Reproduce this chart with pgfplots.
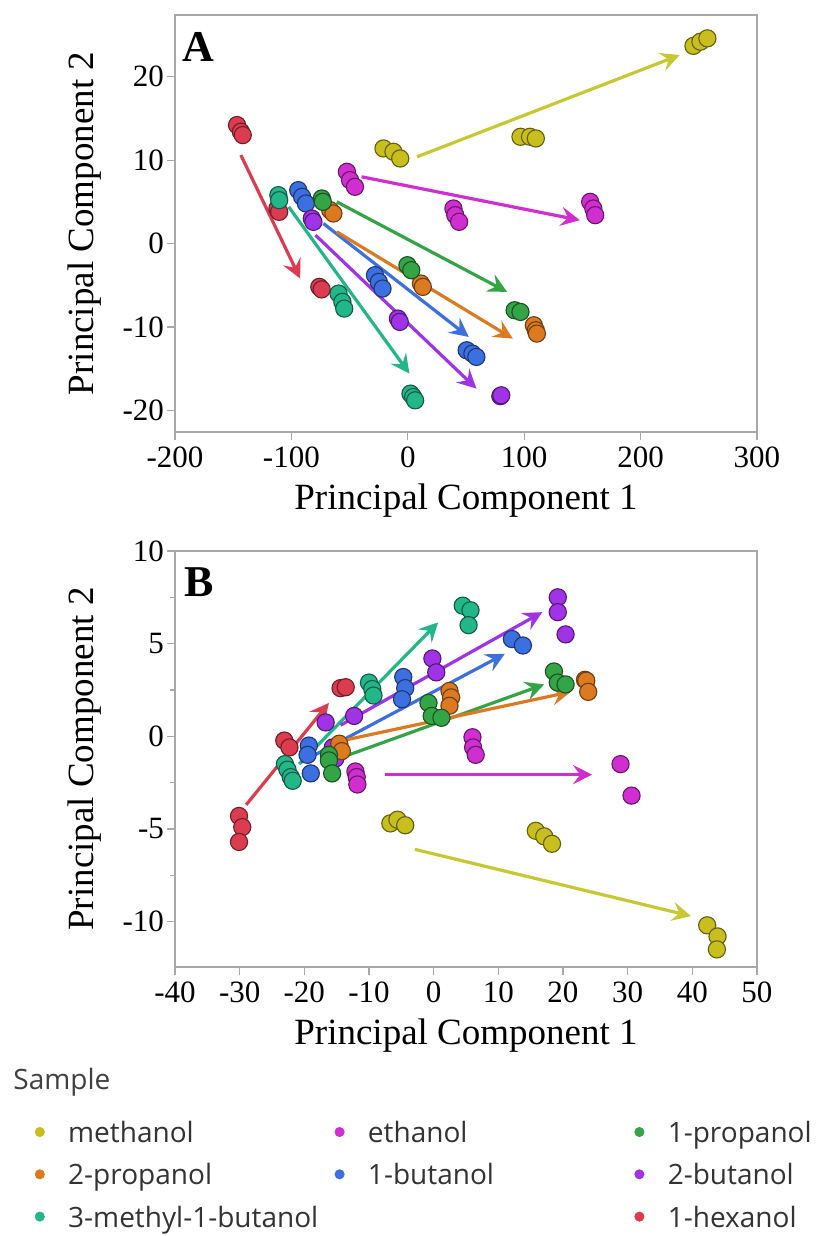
\documentclass[border=0pt]{standalone}
\usepackage{fontspec}
\setmainfont{Liberation Serif}
\newfontfamily\legfont{Open Sans}
\usepackage{pgfplots}
\pgfplotsset{compat=1.18}
\usetikzlibrary{arrows.meta}

\definecolor{cMeth}{HTML}{C8BE1E}
\definecolor{cMethA}{HTML}{C8C832}
\definecolor{cEth}{HTML}{D02ED0}
\definecolor{cProp1}{HTML}{34A547}
\definecolor{cProp2}{HTML}{DC7A22}
\definecolor{cBut1}{HTML}{3C6FE0}
\definecolor{cBut2}{HTML}{A033E6}
\definecolor{cMB}{HTML}{22B688}
\definecolor{cHex}{HTML}{DC3C50}
\definecolor{axgray}{HTML}{A8A8A8}

\pgfplotsset{
  pts/.style={only marks, mark=*, mark size=4.3pt,
    mark options={fill=#1, draw=#1!50!black, line width=0.55pt}},
  arr/.style={draw=#1, line width=1.6pt, no marks,
    -{Stealth[length=9.5pt,width=9.5pt,inset=3.5pt]}},
  pcaxis/.style={
    scale only axis, width=291pt,
    axis background/.style={fill=white},
    axis line style={draw=axgray, line width=0.8pt},
    tick style={draw=axgray, line width=0.6pt},
    tick align=outside, xtick pos=bottom, ytick pos=left,
    major tick length=4pt, minor tick length=2.5pt,
    /pgf/number format/assume math mode=true,
    ticklabel style={font=\fontsize{15.5}{18}\selectfont},
    yticklabel style={xshift=2pt},
    label style={font=\fontsize{18.5}{21}\selectfont},
    xlabel={Principal Component 1},
    ylabel={Principal Component 2},
    xlabel style={at={(axis description cs:0.5,-0.187)}, anchor=base},
    ylabel style={at={(axis description cs:-0.156,0.5)}, anchor=center},
  },
}
\newcommand\legdot[1]{\addlegendimage{legend image code/.code={\fill[#1] (0pt,0pt) circle (2.3pt);}}}
\newcommand\legtxt[1]{\addlegendentry{\makebox[144.9pt][l]{\hspace{11.7pt}\strut #1}}}

\begin{document}
\begin{tikzpicture}
\path[use as bounding box, fill=white] (0pt,0pt) rectangle (415pt,-618pt);

% ---------------- Panel A ----------------
\begin{axis}[pcaxis, at={(87.5pt,-216pt)}, anchor=south west, height=208.5pt,
  xmin=-200, xmax=300, ymin=-22.6, ymax=27.4,
  xtick={-200,-100,0,100,200,300}, ytick={-20,-10,0,10,20}]
\addplot[pts=cMeth] coordinates {(-20.9,11.4) (-12.3,11.0) (-6.5,10.2) (96.8,12.8) (105,12.8) (110,12.6) (245.4,23.7) (251.4,24.2) (257.4,24.6)};
\addplot[pts=cEth] coordinates {(-52.3,8.6) (-49.6,7.6) (-45.4,6.8) (39.2,4.2) (40.8,3.4) (44.1,2.6) (156.7,5.0) (159.4,4.2) (161,3.4)};
\addplot[pts=cHex] coordinates {(-146.7,14.2) (-143.4,13.4) (-141.8,13.0) (-112,4.2) (-110.5,3.8) (-76,-5.2) (-74,-5.5)};
\addplot[pts=cMB] coordinates {(-111.2,5.8) (-110.5,5.2) (-59.5,-6.0) (-56.2,-7.0) (-54.6,-7.8) (2.3,-18.0) (4.6,-18.4) (6.3,-18.8)};
\addplot[pts=cBut1] coordinates {(-94.1,6.4) (-90.8,5.6) (-87.5,4.8) (-28.2,-3.8) (-24.9,-4.6) (-21.7,-5.4) (50.6,-12.8) (55.5,-13.2) (58.9,-13.6)};
\addplot[pts=cProp2] coordinates {(-66.7,4.0) (-63.9,3.6) (11.3,-4.8) (12.9,-5.2) (108.3,-9.8) (110,-10.4) (110.9,-10.8)};
\addplot[pts=cProp1] coordinates {(-73.9,5.4) (-73,5.0) (-0.3,-2.6) (3.0,-3.2) (91.8,-8.0) (96.8,-8.2)};
\addplot[pts=cBut2] coordinates {(-82.5,3.0) (-81.1,2.6) (-8.5,-9.0) (-6.9,-9.4) (79.5,-18.3) (80.3,-18.2)};
\addplot[arr=cMethA] coordinates {(8,10.4) (233.6,22.6)};
\addplot[arr=cEth] coordinates {(-39.7,8.0) (147.8,2.8)};
\addplot[arr=cHex] coordinates {(-143.4,10.6) (-92.5,-4.2)};
\addplot[arr=cMB] coordinates {(-102.3,4.4) (1.4,-15.6)};
\addplot[arr=cBut1] coordinates {(-72.5,2.4) (52.4,-11.2)};
\addplot[arr=cProp1] coordinates {(-61,5.0) (85.3,-5.8)};
\addplot[arr=cProp2] coordinates {(-61,1.4) (90.2,-11.4)};
\addplot[arr=cBut2] coordinates {(-79.3,1.0) (59,-17.4)};
\node[font=\bfseries\fontsize{22}{24}\selectfont] at (rel axis cs:0.0395,0.923) {A};
\end{axis}

% ---------------- Panel B ----------------
\begin{axis}[pcaxis, at={(87.5pt,-483.5pt)}, anchor=south west, height=208pt,
  xmin=-40, xmax=50, ymin=-12.45, ymax=10,
  xtick={-40,-30,...,50}, ytick={-10,-5,0,5,10}, minor ytick={-7.5,-2.5,2.5,7.5}]
\addplot[pts=cMeth] coordinates {(-6.7,-4.7) (-5.6,-4.5) (-4.4,-4.8) (15.8,-5.1) (17.1,-5.4) (18.3,-5.8) (42.3,-10.2) (43.9,-10.8) (43.8,-11.5)};
\addplot[pts=cEth] coordinates {(-12.1,-1.9) (-11.9,-2.2) (-11.8,-2.6) (6.0,-0.05) (6.1,-0.6) (6.5,-1.0) (28.9,-1.5) (30.6,-3.2)};
\addplot[pts=cHex] coordinates {(-30.1,-4.3) (-29.6,-4.9) (-30.1,-5.7) (-23.1,-0.23) (-22.3,-0.6) (-14.4,2.6) (-13.6,2.65)};
\addplot[pts=cMB] coordinates {(-23,-1.5) (-22.6,-1.8) (-22.1,-2.2) (-21.8,-2.4) (-10.0,2.9) (-9.5,2.55) (-9.3,2.2) (4.5,7.05) (5.7,6.8) (5.4,6.0)};
\addplot[pts=cBut1] coordinates {(-19.3,-0.5) (-19.5,-1.0) (-19.0,-2.0) (-4.7,3.2) (-4.4,2.6) (-4.9,2.0) (12.1,5.25) (13.8,4.9)};
\addplot[pts=cBut2] coordinates {(-16.7,0.75) (-15.6,-0.6) (-15.2,-1.2) (-12.3,1.1) (-0.2,4.2) (0.4,3.45) (19.2,7.5) (19.2,6.7) (20.4,5.5)};
\addplot[pts=cProp2] coordinates {(-14.6,-0.4) (-14.2,-0.8) (2.45,2.45) (2.7,2.1) (2.45,1.65) (23.4,3.05) (23.6,3.0) (23.9,2.4)};
\addplot[pts=cProp1] coordinates {(-16.2,-1.0) (-16.2,-1.3) (-15.7,-2.0) (-0.8,1.8) (-0.3,1.1) (1.2,1.0) (18.6,3.5) (19.2,2.9) (20.4,2.8)};
\addplot[arr=cMethA] coordinates {(-2.9,-6.1) (39.8,-9.7)};
\addplot[arr=cEth] coordinates {(-7.6,-2.07) (24.5,-2.07)};
\addplot[arr=cHex] coordinates {(-29,-3.7) (-16.2,1.8)};
\addplot[arr=cMB] coordinates {(-20.8,-1.5) (0.7,6.15)};
\addplot[arr=cBut1] coordinates {(-20.5,-1.4) (11,4.45)};
\addplot[arr=cBut2] coordinates {(-14.4,0.6) (16.8,6.7)};
\addplot[arr=cProp1] coordinates {(-13.9,-1.1) (17.1,2.8)};
\addplot[arr=cProp2] coordinates {(-13.7,-0.2) (21.2,2.4)};
\node[font=\bfseries\fontsize{22}{24}\selectfont] at (rel axis cs:0.041,0.925) {B};
\end{axis}

% ---------------- Legend ----------------
\node[anchor=west, inner sep=0pt, text=black!75, font=\legfont\fontsize{14}{17}\selectfont] at (6.5pt,-541pt) {Sample};
\begin{axis}[hide axis, scale only axis, at={(0pt,-618pt)}, anchor=south west,
  width=415pt, height=618pt, xmin=0, xmax=1, ymin=0, ymax=1,
  legend columns=3,
  legend cell align=left,
  legend style={at={(axis description cs:0.04145,0.0953)}, anchor=north west,
    draw=none, fill=none, inner sep=0pt, column sep=0pt, row sep=7.75pt,
    nodes={inner sep=0pt}, text=black!80,
    font=\legfont\fontsize{14}{17}\selectfont}]
\legdot{cMeth}\legtxt{methanol}
\legdot{cEth}\legtxt{ethanol}
\legdot{cProp1}\legtxt{1-propanol}
\legdot{cProp2}\legtxt{2-propanol}
\legdot{cBut1}\legtxt{1-butanol}
\legdot{cBut2}\legtxt{2-butanol}
\legdot{cMB}\legtxt{3-methyl-1-butanol}
\addlegendimage{empty legend}\legtxt{}
\legdot{cHex}\legtxt{1-hexanol}
\end{axis}
\end{tikzpicture}
\end{document}
